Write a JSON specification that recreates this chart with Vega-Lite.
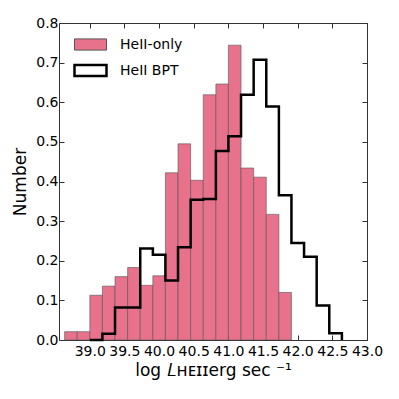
{
  "$schema": "https://vega.github.io/schema/vega-lite/v6.json",
  "autosize": "none",
  "width": 308,
  "height": 317,
  "padding": {"left": 59, "top": 23, "right": 32, "bottom": 59},
  "background": "white",
  "config": {
    "font": "DejaVu Sans",
    "view": {"stroke": "#333333", "strokeWidth": 1},
    "axis": {
      "grid": false,
      "domain": false,
      "tickColor": "#333333",
      "tickSize": -5,
      "labelOverlap": false,
      "labelFlush": false,
      "labelFont": "DejaVu Sans",
      "labelFontSize": 14,
      "labelColor": "#000000",
      "titleFont": "DejaVu Sans",
      "titleFontSize": 17,
      "titleFontWeight": "normal",
      "titleColor": "#000000"
    },
    "legend": {
      "symbolType": "M-1,-0.35L1,-0.35L1,0.35L-1,0.35Z",
      "symbolSize": 1024,
      "labelFont": "DejaVu Sans",
      "labelFontSize": 14,
      "labelColor": "#000000",
      "labelOffset": 12,
      "rowPadding": -7,
      "padding": 0
    }
  },
  "datasets": {
    "only": [
      {"x0": 38.638, "x1": 38.820, "value": 0.021, "series": "HeII-only"},
      {"x0": 38.820, "x1": 39.002, "value": 0.021, "series": "HeII-only"},
      {"x0": 39.002, "x1": 39.183, "value": 0.113, "series": "HeII-only"},
      {"x0": 39.183, "x1": 39.365, "value": 0.136, "series": "HeII-only"},
      {"x0": 39.365, "x1": 39.547, "value": 0.160, "series": "HeII-only"},
      {"x0": 39.547, "x1": 39.729, "value": 0.183, "series": "HeII-only"},
      {"x0": 39.729, "x1": 39.911, "value": 0.138, "series": "HeII-only"},
      {"x0": 39.911, "x1": 40.092, "value": 0.162, "series": "HeII-only"},
      {"x0": 40.092, "x1": 40.274, "value": 0.422, "series": "HeII-only"},
      {"x0": 40.274, "x1": 40.456, "value": 0.495, "series": "HeII-only"},
      {"x0": 40.456, "x1": 40.638, "value": 0.403, "series": "HeII-only"},
      {"x0": 40.638, "x1": 40.820, "value": 0.619, "series": "HeII-only"},
      {"x0": 40.820, "x1": 41.001, "value": 0.646, "series": "HeII-only"},
      {"x0": 41.001, "x1": 41.183, "value": 0.744, "series": "HeII-only"},
      {"x0": 41.183, "x1": 41.365, "value": 0.434, "series": "HeII-only"},
      {"x0": 41.365, "x1": 41.547, "value": 0.411, "series": "HeII-only"},
      {"x0": 41.547, "x1": 41.729, "value": 0.317, "series": "HeII-only"},
      {"x0": 41.729, "x1": 41.910, "value": 0.120, "series": "HeII-only"}
    ],
    "bpt": [
      {"x": 39.002, "value": 0.0, "series": "HeII BPT"},
      {"x": 39.183, "value": 0.016, "series": "HeII BPT"},
      {"x": 39.365, "value": 0.082, "series": "HeII BPT"},
      {"x": 39.547, "value": 0.082, "series": "HeII BPT"},
      {"x": 39.729, "value": 0.231, "series": "HeII BPT"},
      {"x": 39.911, "value": 0.215, "series": "HeII BPT"},
      {"x": 40.092, "value": 0.150, "series": "HeII BPT"},
      {"x": 40.274, "value": 0.234, "series": "HeII BPT"},
      {"x": 40.456, "value": 0.354, "series": "HeII BPT"},
      {"x": 40.638, "value": 0.356, "series": "HeII BPT"},
      {"x": 40.820, "value": 0.477, "series": "HeII BPT"},
      {"x": 41.001, "value": 0.514, "series": "HeII BPT"},
      {"x": 41.183, "value": 0.619, "series": "HeII BPT"},
      {"x": 41.365, "value": 0.707, "series": "HeII BPT"},
      {"x": 41.547, "value": 0.589, "series": "HeII BPT"},
      {"x": 41.729, "value": 0.365, "series": "HeII BPT"},
      {"x": 41.910, "value": 0.245, "series": "HeII BPT"},
      {"x": 42.092, "value": 0.210, "series": "HeII BPT"},
      {"x": 42.274, "value": 0.087, "series": "HeII BPT"},
      {"x": 42.456, "value": 0.017, "series": "HeII BPT"},
      {"x": 42.638, "value": 0.0, "series": "HeII BPT"}
    ]
  },
  "layer": [
    {
      "data": {"name": "only"},
      "mark": {"type": "bar", "strokeOpacity": 0.6},
      "encoding": {
        "x": {
          "field": "x0", "type": "quantitative",
          "scale": {"domain": [38.557, 43.0], "nice": false, "zero": false},
          "axis": {"orient": "bottom", "values": [39.0, 39.5, 40.0, 40.5, 41.0, 41.5, 42.0, 42.5, 43.0], "format": ".1f", "labelPadding": 9, "title": "log  𝐿ʜᴇɪɪerg sec ⁻¹", "titlePadding": 4}
        },
        "x2": {"field": "x1"},
        "y": {
          "field": "value", "type": "quantitative",
          "scale": {"domain": [0, 0.8], "nice": false},
          "axis": {"orient": "left", "values": [0, 0.1, 0.2, 0.3, 0.4, 0.5, 0.6, 0.7, 0.8], "format": ".1f", "labelPadding": 6, "title": "Number", "titlePadding": 6}
        },
        "y2": {"datum": 0},
        "fill": {
          "field": "series", "type": "nominal",
          "scale": {"domain": ["HeII-only", "HeII BPT"], "range": ["#e8728c", "#ffffff"]},
          "legend": {"title": null, "orient": "none", "legendX": 14, "legendY": 5}
        },
        "stroke": {
          "field": "series", "type": "nominal",
          "scale": {"domain": ["HeII-only", "HeII BPT"], "range": ["#555555", "#000000"]},
          "legend": {"title": null, "orient": "none", "legendX": 14, "legendY": 5}
        },
        "strokeWidth": {
          "field": "series", "type": "nominal",
          "scale": {"domain": ["HeII-only", "HeII BPT"], "range": [1, 2.5]},
          "legend": {"title": null, "orient": "none", "legendX": 14, "legendY": 5}
        }
      }
    },
    {
      "data": {"name": "bpt"},
      "mark": {"type": "line", "interpolate": "step-after", "strokeJoin": "miter"},
      "encoding": {
        "x": {
          "field": "x", "type": "quantitative",
          "axis": {"orient": "top", "values": [39.0, 39.5, 40.0, 40.5, 41.0, 41.5, 42.0, 42.5, 43.0], "labels": false, "title": null}
        },
        "y": {
          "field": "value", "type": "quantitative",
          "axis": {"orient": "right", "values": [0, 0.1, 0.2, 0.3, 0.4, 0.5, 0.6, 0.7, 0.8], "labels": false, "title": null}
        },
        "stroke": {"field": "series", "type": "nominal"},
        "strokeWidth": {"field": "series", "type": "nominal"}
      }
    }
  ],
  "resolve": {"axis": {"x": "independent", "y": "independent"}}
}
